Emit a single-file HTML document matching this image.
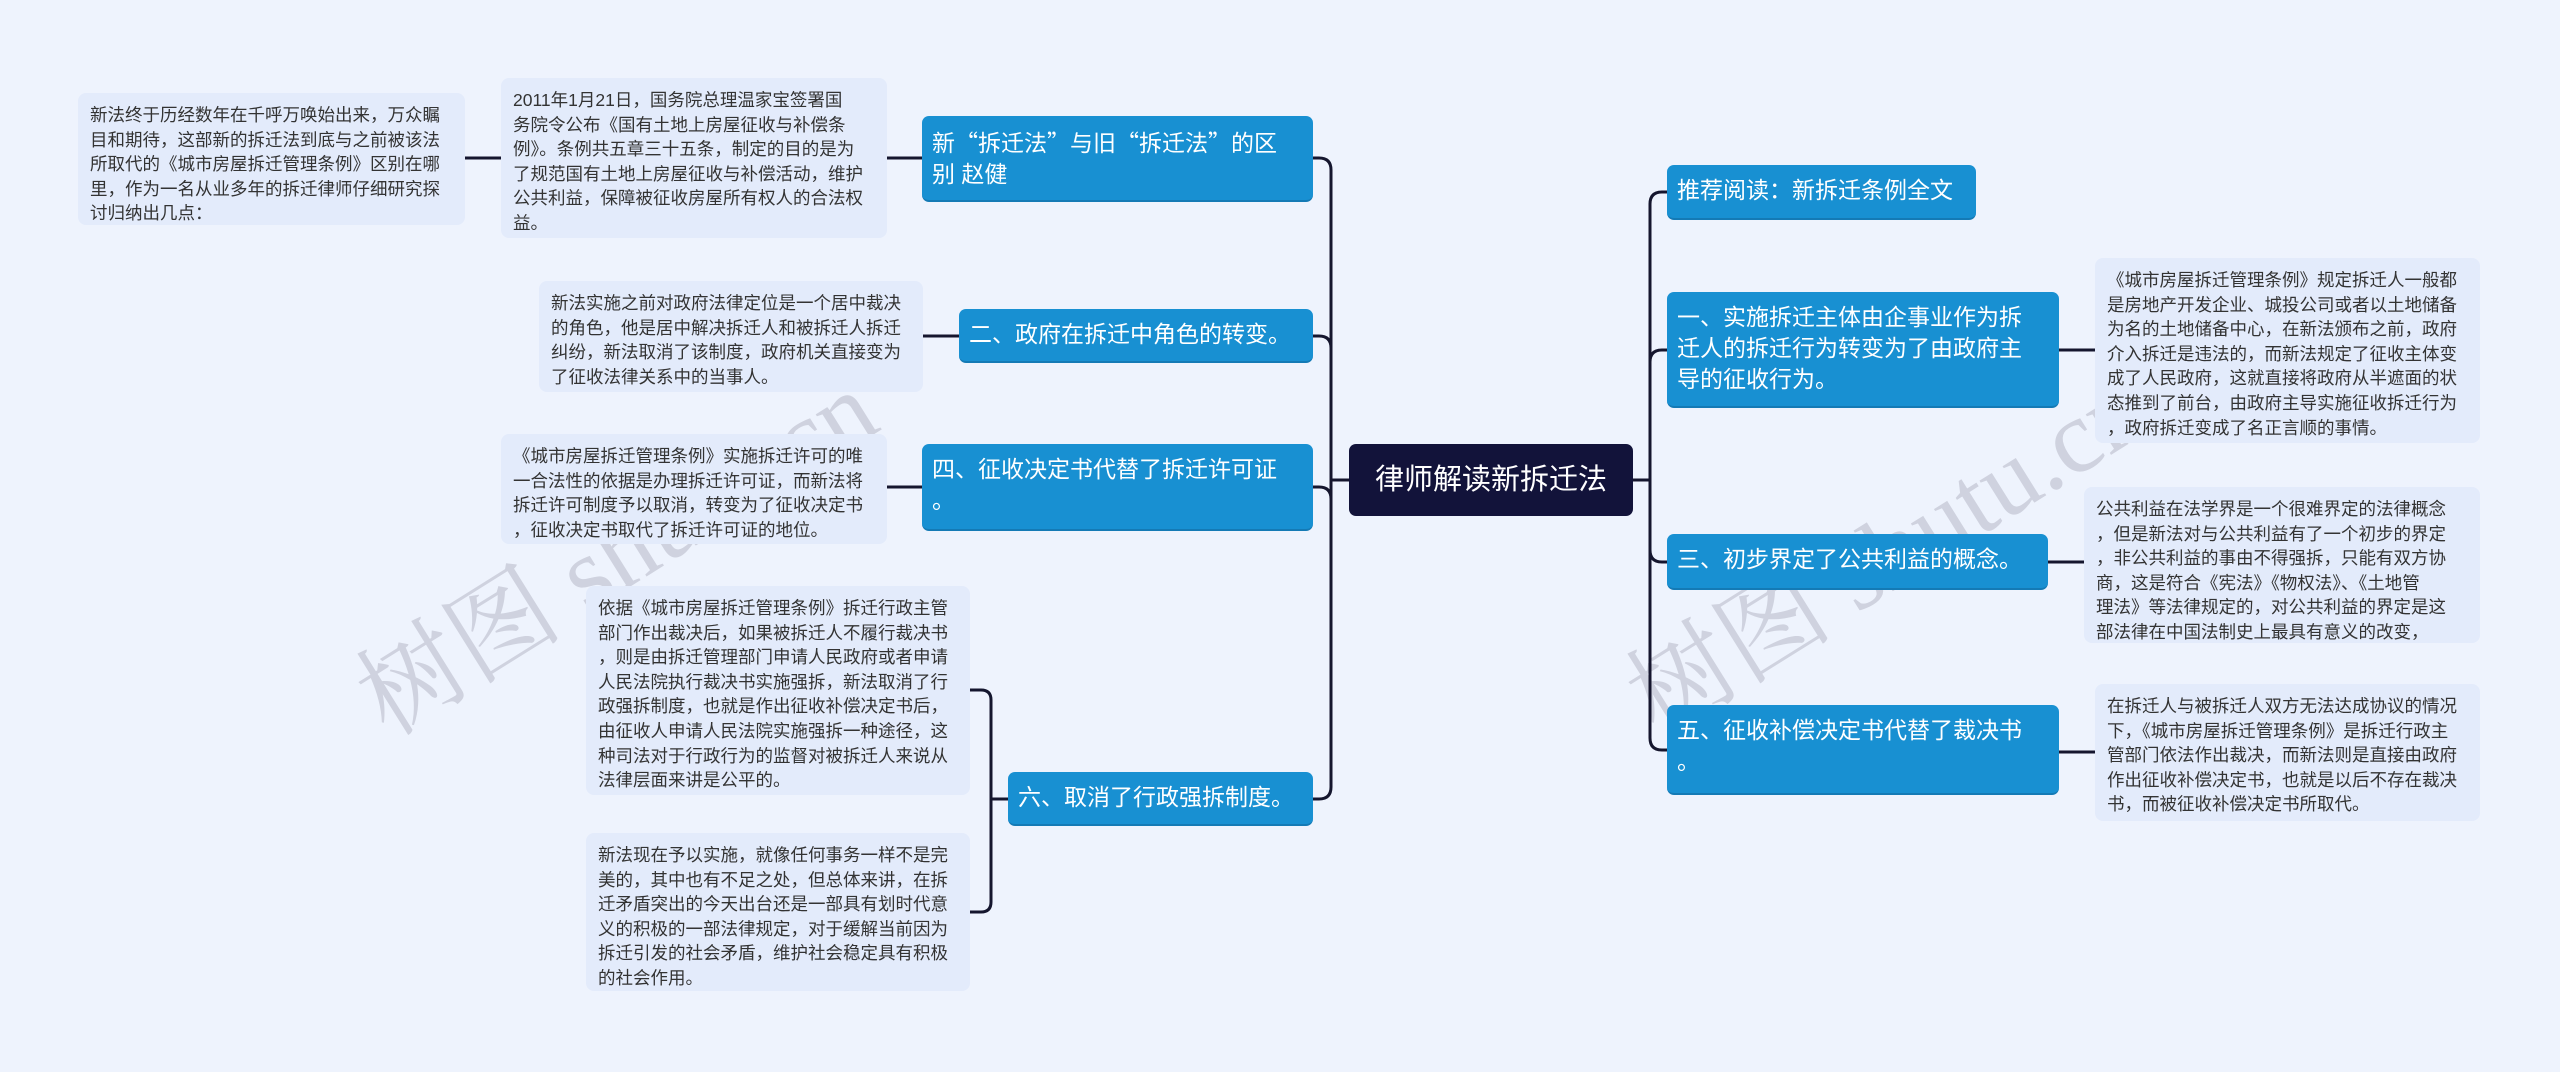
<!DOCTYPE html>
<html><head><meta charset="utf-8"><style>
body{margin:0;width:2560px;height:1072px;background:#eef3fd;position:relative;overflow:hidden;font-family:"Liberation Sans","Noto Sans CJK SC",sans-serif;}
.d{position:absolute;background:#e3ebfb;border-radius:8px;color:#333;font-size:17.5px;line-height:24.6px;padding:10px 12px;box-sizing:border-box;white-space:nowrap;}
.n{position:absolute;background:#1890d2;border-radius:7px;color:#fff;font-size:23px;line-height:31px;padding:10px 10px;box-sizing:border-box;white-space:nowrap;border-bottom:2px solid #147ab5;}
.c{position:absolute;left:1349px;top:444px;width:284px;height:72px;background:#12133a;border-radius:7px;color:#fff;font-size:29px;line-height:72px;text-align:center;}
.w{position:absolute;font-family:"Liberation Serif","Noto Serif CJK SC",serif;font-size:104px;color:rgba(150,150,165,0.35);transform:rotate(-32deg);white-space:nowrap;}
.q{font-family:"Noto Sans CJK SC",sans-serif;}
svg{position:absolute;left:0;top:0}
</style></head><body>
<div class="w" style="left:320px;top:470px">树图 shutu.cn</div>
<div class="w" style="left:1590px;top:470px">树图 shutu.cn</div>
<svg width="2560" height="1072"><g fill="none" stroke="#15162e" stroke-width="3">
<path d="M1349,480H1331"/>
<path d="M1331,480V170Q1331,158 1319,158H1313"/>
<path d="M1331,480V348Q1331,336 1319,336H1313"/>
<path d="M1331,480V499Q1331,487 1319,487H1313"/>
<path d="M1331,480V787Q1331,799 1319,799H1313"/>
<path d="M1633,480H1650"/>
<path d="M1650,480V204Q1650,192 1662,192H1667"/>
<path d="M1650,480V362Q1650,350 1662,350H1667"/>
<path d="M1650,480V550Q1650,562 1662,562H1667"/>
<path d="M1650,480V738Q1650,750 1662,750H1667"/>
<path d="M922,158H887M501,158H465M959,336H923M922,487H887"/>
<path d="M1008,799H991M970,690H981Q991,690 991,700V902Q991,912 981,912H970"/>
<path d="M2059,350H2095M2048,562H2084M2059,752H2095"/>
</g></svg>
<div class="c">律师解读新拆迁法</div>

<div class="n" style="left:922px;top:116px;width:391px;height:86px">新<span class="q">“</span>拆迁法<span class="q">”</span>与旧<span class="q">“</span>拆迁法<span class="q">”</span>的区<br>别 赵健</div>
<div class="d" style="left:501px;top:78px;width:386px;height:160px">2011年1月21日，国务院总理温家宝签署国<br>务院令公布《国有土地上房屋征收与补偿条<br>例》。条例共五章三十五条，制定的目的是为<br>了规范国有土地上房屋征收与补偿活动，维护<br>公共利益，保障被征收房屋所有权人的合法权<br>益。</div>
<div class="d" style="left:78px;top:93px;width:387px;height:132px">新法终于历经数年在千呼万唤始出来，万众瞩<br>目和期待，这部新的拆迁法到底与之前被该法<br>所取代的《城市房屋拆迁管理条例》区别在哪<br>里，作为一名从业多年的拆迁律师仔细研究探<br>讨归纳出几点：</div>

<div class="n" style="left:959px;top:309px;width:354px;height:54px">二、政府在拆迁中角色的转变。</div>
<div class="d" style="left:539px;top:281px;width:384px;height:111px">新法实施之前对政府法律定位是一个居中裁决<br>的角色，他是居中解决拆迁人和被拆迁人拆迁<br>纠纷，新法取消了该制度，政府机关直接变为<br>了征收法律关系中的当事人。</div>

<div class="n" style="left:922px;top:444px;width:391px;height:87px">四、征收决定书代替了拆迁许可证<br>。</div>
<div class="d" style="left:501px;top:434px;width:386px;height:110px">《城市房屋拆迁管理条例》实施拆迁许可的唯<br>一合法性的依据是办理拆迁许可证，而新法将<br>拆迁许可制度予以取消，转变为了征收决定书<br>，征收决定书取代了拆迁许可证的地位。</div>

<div class="n" style="left:1008px;top:772px;width:305px;height:54px">六、取消了行政强拆制度。</div>
<div class="d" style="left:586px;top:586px;width:384px;height:209px">依据《城市房屋拆迁管理条例》拆迁行政主管<br>部门作出裁决后，如果被拆迁人不履行裁决书<br>，则是由拆迁管理部门申请人民政府或者申请<br>人民法院执行裁决书实施强拆，新法取消了行<br>政强拆制度，也就是作出征收补偿决定书后，<br>由征收人申请人民法院实施强拆一种途径，这<br>种司法对于行政行为的监督对被拆迁人来说从<br>法律层面来讲是公平的。</div>
<div class="d" style="left:586px;top:833px;width:384px;height:158px">新法现在予以实施，就像任何事务一样不是完<br>美的，其中也有不足之处，但总体来讲，在拆<br>迁矛盾突出的今天出台还是一部具有划时代意<br>义的积极的一部法律规定，对于缓解当前因为<br>拆迁引发的社会矛盾，维护社会稳定具有积极<br>的社会作用。</div>

<div class="n" style="left:1667px;top:165px;width:309px;height:55px">推荐阅读：新拆迁条例全文</div>
<div class="n" style="left:1667px;top:292px;width:392px;height:116px">一、实施拆迁主体由企事业作为拆<br>迁人的拆迁行为转变为了由政府主<br>导的征收行为。</div>
<div class="d" style="left:2095px;top:258px;width:385px;height:185px">《城市房屋拆迁管理条例》规定拆迁人一般都<br>是房地产开发企业、城投公司或者以土地储备<br>为名的土地储备中心，在新法颁布之前，政府<br>介入拆迁是违法的，而新法规定了征收主体变<br>成了人民政府，这就直接将政府从半遮面的状<br>态推到了前台，由政府主导实施征收拆迁行为<br>，政府拆迁变成了名正言顺的事情。</div>
<div class="n" style="left:1667px;top:534px;width:381px;height:56px">三、初步界定了公共利益的概念。</div>
<div class="d" style="left:2084px;top:487px;width:396px;height:156px">公共利益在法学界是一个很难界定的法律概念<br>，但是新法对与公共利益有了一个初步的界定<br>，非公共利益的事由不得强拆，只能有双方协<br>商，这是符合《宪法》《物权法》、《土地管<br>理法》等法律规定的，对公共利益的界定是这<br>部法律在中国法制史上最具有意义的改变，</div>
<div class="n" style="left:1667px;top:705px;width:392px;height:90px">五、征收补偿决定书代替了裁决书<br>。</div>
<div class="d" style="left:2095px;top:684px;width:385px;height:137px">在拆迁人与被拆迁人双方无法达成协议的情况<br>下，《城市房屋拆迁管理条例》是拆迁行政主<br>管部门依法作出裁决，而新法则是直接由政府<br>作出征收补偿决定书，也就是以后不存在裁决<br>书，而被征收补偿决定书所取代。</div>
</body></html>
